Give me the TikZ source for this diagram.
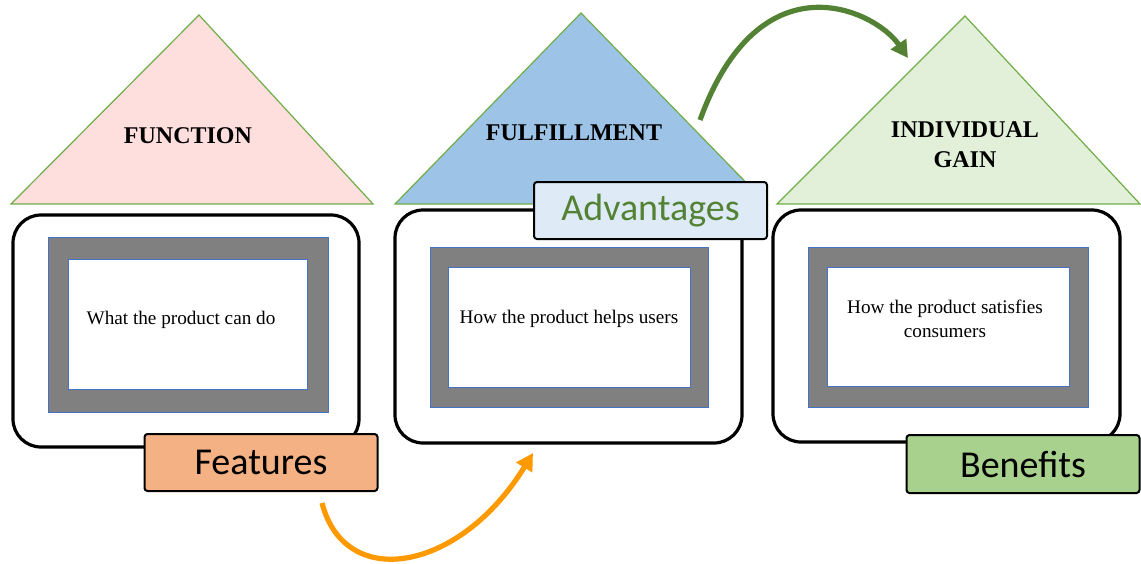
\documentclass[tikz,border=0pt]{standalone}
\usepackage{fontspec}
\setmainfont{Liberation Serif}
\newfontfamily\badgefont{Carlito}
\usetikzlibrary{arrows.meta}
\definecolor{roofline}{RGB}{112,173,71}
\definecolor{pinkfill}{RGB}{255,222,222}
\definecolor{bluefill}{RGB}{157,195,230}
\definecolor{mintfill}{RGB}{226,240,217}
\definecolor{framegray}{RGB}{128,128,128}
\definecolor{frameblue}{RGB}{68,114,196}
\definecolor{featfill}{RGB}{244,177,131}
\definecolor{advfill}{RGB}{222,235,247}
\definecolor{benfill}{RGB}{169,209,142}
\definecolor{darkgreen}{RGB}{84,130,53}
\definecolor{arroworange}{RGB}{255,153,0}
\begin{document}
\begin{tikzpicture}[
    x=0.5pt, y=-0.5pt,
    roof/.style={draw=roofline, line width=0.6pt},
    rooftext/.style={font=\bfseries\fontsize{12}{15}\selectfont, align=center},
    house/.style={draw=black, line width=1.6pt, rounded corners=14pt, fill=white, inner sep=0pt},
    panel/.style={draw=frameblue, line width=0.5pt, fill=framegray, inner sep=0pt},
    pane/.style={draw=frameblue, line width=0.5pt, fill=white, inner sep=0pt},
    blurb/.style={font=\fontsize{9.6}{12}\selectfont, align=center},
    badge/.style={draw=black, line width=1pt, rounded corners=1.5pt, inner sep=0pt, minimum width=116.5pt, minimum height=28.5pt, font=\badgefont\fontsize{19}{22}\selectfont},
    flow/.style={line width=2.6pt, -{Triangle[length=8.5pt, width=9pt]}}
  ]
    \useasboundingbox (0, 0) rectangle (1141, 563);

    \filldraw [roof, fill=pinkfill] (11, 204) -- (199, 15) -- (373, 204) -- cycle;
    \filldraw [roof, fill=bluefill] (395, 204) -- (581, 13) -- (767, 204) -- cycle;
    \filldraw [roof, fill=mintfill] (777, 204) -- (965, 16) -- (1140, 204) -- cycle;

    \node (fnroof) at (188, 136) [rooftext] {FUNCTION};
    \node (flroof) at (574, 133) [rooftext] {FULFILLMENT};
    \node (igroof) at (965, 145) [rooftext] {INDIVIDUAL\\GAIN};

    \node (fnhouse) at (186, 331)     [house, minimum width=173pt, minimum height=116pt] {};
    \node (flhouse) at (568.5, 326.5) [house, minimum width=173.5pt, minimum height=116.5pt] {};
    \node (ighouse) at (946.5, 326)   [house, minimum width=173.5pt, minimum height=116pt] {};

    \node (fnpanel) at (188, 324.5) [panel, minimum width=140pt, minimum height=87.5pt] {};
    \node (flpanel) at (569, 327)   [panel, minimum width=139pt, minimum height=80pt] {};
    \node (igpanel) at (948, 327)   [panel, minimum width=140pt, minimum height=80pt] {};

    \node (fnpane) at (187.5, 324) [pane, minimum width=119.5pt, minimum height=65pt] {};
    \node (flpane) at (569, 327)   [pane, minimum width=121pt, minimum height=60pt] {};
    \node (igpane) at (948, 326.5) [pane, minimum width=121pt, minimum height=59.5pt] {};

    \node (fntext) at (181, 320) [blurb] {What the product can do};
    \node (fltext) at (569, 319) [blurb] {How the product helps users};
    \node (igtext) at (945, 319) [blurb] {How the product satisfies\\consumers};

    \node (features)   at (261, 462.5)   [badge, fill=featfill] {Features};
    \node (advantages) at (650.5, 210.5) [badge, fill=advfill, text=darkgreen] {Advantages};
    \node (benefits)   at (1023, 464)    [badge, fill=benfill, minimum height=29pt] {Benefits};

    \coordinate (orangefrom) at (322, 503);
    \coordinate (orangeto) at (533, 453);
    \coordinate (greenfrom) at (700, 120);
    \coordinate (greento) at (908, 58);

    \draw [flow, draw=arroworange] (orangefrom) .. controls (345, 592) and (460, 572) .. (orangeto);
    \draw [flow, draw=darkgreen] (greenfrom) .. controls (760, -45) and (875, 10) .. (greento);
  \end{tikzpicture}
\end{document}
